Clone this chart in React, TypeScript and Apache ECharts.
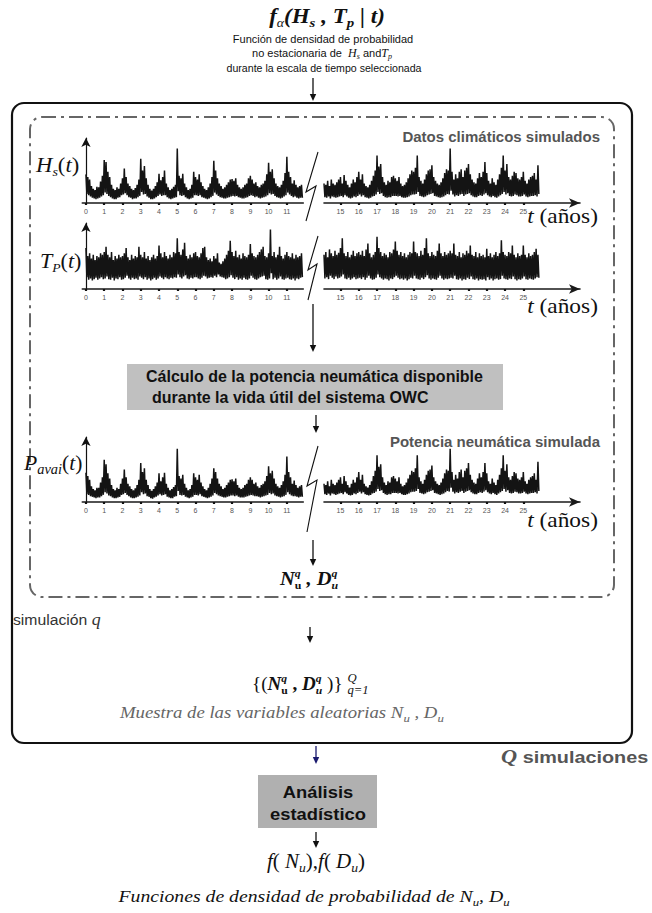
import React, { useEffect, useRef } from 'react';
import * as echarts from 'echarts';

// ---------- DATA (values on a 0-100 display scale, sampled every 0.1 year) ----------
const leftTicks = [0, 1, 2, 3, 4, 5, 6, 7, 8, 9, 10, 11];
const rightTicks = [15, 16, 17, 18, 19, 20, 21, 22, 23, 24, 25];
const leftStart = 0.0;   // first sample (years)
const rightStart = 14.1; // first sample after the break (years)

// Hs(t) – window maxima / minima
const hsLeftHi = [
  44, 40, 36, 26, 22, 20, 25, 24, 33, 42,
  66, 63, 48, 40, 28, 22, 20, 24, 22, 30,
  38, 53, 40, 30, 26, 22, 20, 23, 28, 36,
  68, 50, 57, 38, 28, 22, 19, 22, 26, 32,
  45, 35, 40, 50, 30, 24, 20, 22, 25, 28,
  84, 42, 38, 45, 30, 24, 20, 22, 28, 48,
  40, 36, 44, 32, 26, 22, 20, 24, 30, 40,
  65, 50, 38, 30, 26, 22, 24, 28, 32, 36,
  37, 34, 38, 28, 24, 22, 24, 28, 30, 38,
  42, 36, 30, 32, 26, 24, 28, 30, 34, 44,
  62, 48, 52, 38, 30, 26, 24, 28, 34, 46,
  71, 48, 40, 30, 35, 28, 24, 26, 28,
];
const hsLeftLo = [
  14, 12, 10, 8, 7, 6, 7, 8, 10, 12,
  16, 14, 11, 9, 7, 6, 6, 8, 9, 12,
  13, 15, 12, 9, 8, 6, 7, 7, 9, 11,
  17, 13, 14, 10, 8, 6, 6, 7, 9, 11,
  13, 11, 12, 12, 9, 7, 6, 7, 8, 9,
  18, 12, 11, 12, 9, 7, 6, 7, 8, 12,
  12, 11, 12, 9, 8, 7, 6, 7, 9, 11,
  16, 13, 11, 9, 8, 7, 7, 8, 9, 10,
  11, 10, 11, 9, 8, 7, 7, 8, 9, 11,
  12, 11, 9, 10, 8, 7, 8, 9, 10, 12,
  15, 13, 14, 11, 9, 8, 7, 8, 10, 12,
  16, 13, 11, 9, 10, 8, 7, 8, 8,
];
const hsRightHi = [
  30, 28, 34, 26, 36, 30, 28, 32, 36,
  40, 30, 43, 34, 28, 24, 30, 36, 32, 40,
  48, 36, 44, 30, 26, 24, 28, 34, 42, 50,
  73, 56, 60, 40, 32, 28, 34, 32, 40, 42,
  38, 34, 40, 30, 26, 28, 32, 38, 44, 50,
  48, 54, 73, 40, 34, 30, 36, 44, 50, 52,
  58, 40, 34, 30, 28, 32, 38, 46, 52, 50,
  84, 48, 36, 44, 38, 48, 52, 40, 50, 54,
  60, 44, 36, 32, 30, 38, 46, 40, 48, 63,
  46, 34, 30, 38, 32, 28, 36, 44, 54, 73,
  50, 60, 40, 36, 42, 48, 46, 38, 36, 40,
  48, 34, 30, 36, 40, 42, 46, 36, 58,
];
const hsRightLo = [
  9, 8, 10, 7, 10, 9, 8, 9, 10,
  11, 9, 12, 10, 8, 7, 8, 10, 9, 11,
  13, 10, 12, 9, 8, 7, 8, 10, 11, 13,
  17, 14, 15, 11, 9, 8, 9, 9, 11, 11,
  11, 10, 11, 9, 8, 8, 9, 10, 12, 13,
  13, 14, 17, 11, 10, 9, 10, 12, 13, 14,
  15, 11, 10, 9, 8, 9, 10, 12, 14, 13,
  19, 13, 10, 12, 11, 13, 14, 11, 13, 14,
  15, 12, 10, 9, 9, 11, 12, 11, 13, 15,
  12, 10, 9, 11, 9, 8, 10, 12, 14, 17,
  13, 15, 11, 10, 11, 13, 12, 10, 10, 11,
  13, 10, 9, 10, 11, 11, 12, 10, 14,
];

// Tp(t)
const tpLeftHi = [
  62, 50, 54, 46, 52, 44, 50, 48, 54, 52,
  56, 64, 52, 48, 56, 44, 50, 46, 52, 48,
  50, 54, 62, 48, 44, 52, 46, 50, 48, 64,
  52, 48, 56, 46, 50, 44, 48, 52, 46, 50,
  66, 54, 48, 56, 50, 46, 52, 48, 56, 54,
  77, 56, 52, 60, 70, 50, 46, 52, 48, 54,
  56, 50, 48, 54, 62, 64, 48, 44, 46, 42,
  50, 46, 54, 40, 38, 42, 46, 52, 58, 73,
  56, 50, 58, 48, 52, 46, 54, 50, 48, 52,
  68, 54, 50, 48, 52, 56, 60, 64, 50, 48,
  54, 90, 50, 56, 48, 52, 64, 50, 46, 52,
  56, 50, 48, 54, 46, 52, 48, 50, 54,
];
const tpLeftLo = [
  18, 14, 16, 13, 15, 17, 14, 16, 18, 15,
  16, 19, 15, 14, 17, 13, 16, 15, 18, 14,
  15, 17, 20, 16, 14, 17, 15, 16, 14, 19,
  17, 15, 18, 14, 16, 13, 15, 17, 14, 16,
  19, 17, 15, 18, 16, 15, 17, 16, 18, 17,
  22, 18, 16, 19, 21, 16, 15, 17, 16, 18,
  18, 16, 15, 17, 20, 19, 16, 17, 18, 17,
  20, 18, 22, 19, 18, 17, 15, 16, 18, 21,
  17, 15, 18, 14, 16, 14, 17, 15, 14, 16,
  20, 17, 15, 14, 16, 18, 19, 20, 15, 14,
  16, 24, 15, 17, 14, 16, 19, 15, 14, 16,
  17, 15, 14, 16, 13, 16, 15, 17, 18,
];
const tpRightHi = [
  52, 56, 48, 60, 54, 50, 58, 52, 55,
  62, 77, 54, 50, 56, 48, 52, 58, 50, 54,
  56, 52, 58, 50, 60, 69, 54, 48, 52, 56,
  79, 62, 56, 50, 54, 52, 48, 56, 54, 60,
  72, 58, 52, 56, 50, 54, 48, 52, 56, 54,
  72, 56, 54, 50, 58, 52, 62, 77, 54, 50,
  56, 52, 50, 58, 69, 54, 50, 56, 52, 54,
  58, 54, 69, 52, 50, 56, 48, 54, 52, 58,
  54, 66, 52, 50, 56, 48, 54, 50, 52, 48,
  61, 50, 54, 48, 52, 56, 50, 54, 74, 56,
  52, 50, 56, 54, 66, 52, 48, 54, 50, 52,
  66, 52, 48, 54, 50, 52, 56, 61, 52,
];
const tpRightLo = [
  16, 18, 15, 20, 17, 15, 19, 16, 17,
  19, 22, 16, 15, 17, 14, 16, 18, 15, 16,
  17, 15, 18, 14, 17, 20, 16, 14, 15, 17,
  22, 18, 16, 14, 16, 15, 13, 16, 15, 18,
  20, 17, 15, 16, 14, 16, 13, 15, 17, 16,
  20, 16, 15, 14, 17, 15, 18, 21, 16, 14,
  16, 15, 14, 17, 20, 16, 14, 16, 15, 16,
  17, 16, 20, 15, 14, 16, 13, 15, 14, 17,
  15, 19, 15, 14, 16, 13, 15, 14, 15, 13,
  18, 14, 16, 13, 15, 16, 14, 15, 20, 16,
  15, 14, 16, 15, 19, 15, 13, 15, 14, 16,
  19, 15, 14, 16, 15, 14, 16, 18, 17,
];

// Pavai(t)
const paLeftHi = [
  45, 40, 34, 24, 20, 18, 22, 22, 30, 38,
  65, 58, 44, 36, 26, 20, 18, 22, 20, 28,
  36, 50, 38, 28, 24, 20, 18, 21, 26, 34,
  60, 46, 52, 34, 26, 20, 17, 20, 24, 30,
  44, 32, 38, 45, 28, 22, 18, 20, 23, 26,
  82, 40, 36, 42, 28, 22, 18, 20, 26, 44,
  38, 34, 42, 30, 24, 20, 18, 22, 28, 36,
  52, 46, 36, 28, 24, 20, 22, 26, 30, 34,
  35, 32, 36, 26, 22, 20, 22, 26, 28, 34,
  38, 34, 28, 30, 24, 22, 26, 28, 32, 40,
  55, 44, 48, 36, 28, 24, 22, 26, 32, 42,
  70, 46, 38, 28, 33, 26, 22, 24, 26,
];
const paLeftLo = [
  12, 11, 9, 8, 7, 6, 7, 7, 9, 11,
  15, 13, 10, 9, 7, 6, 6, 7, 8, 11,
  12, 14, 11, 9, 7, 6, 6, 7, 8, 10,
  15, 12, 13, 9, 8, 6, 5, 7, 8, 10,
  12, 10, 11, 12, 8, 7, 6, 6, 8, 9,
  17, 11, 10, 11, 8, 7, 6, 7, 8, 11,
  11, 10, 12, 9, 8, 7, 6, 7, 8, 10,
  14, 12, 10, 9, 8, 7, 7, 8, 9, 10,
  10, 9, 10, 8, 7, 7, 7, 8, 9, 10,
  11, 10, 9, 9, 8, 7, 8, 9, 10, 11,
  14, 12, 13, 10, 9, 8, 7, 8, 9, 11,
  15, 12, 10, 9, 9, 8, 7, 8, 8,
];
const paRightHi = [
  28, 26, 32, 24, 34, 28, 26, 30, 34,
  38, 28, 40, 32, 26, 22, 28, 34, 30, 38,
  46, 34, 42, 28, 24, 22, 26, 32, 40, 48,
  72, 54, 58, 38, 30, 26, 32, 30, 38, 40,
  36, 32, 38, 28, 24, 26, 30, 36, 42, 48,
  46, 52, 72, 38, 32, 28, 34, 42, 48, 50,
  56, 38, 32, 28, 26, 30, 36, 44, 50, 48,
  82, 46, 34, 42, 36, 46, 50, 38, 48, 52,
  60, 42, 34, 30, 28, 36, 44, 38, 46, 60,
  44, 32, 28, 36, 30, 26, 34, 42, 52, 72,
  48, 58, 38, 34, 40, 46, 44, 36, 34, 38,
  46, 32, 28, 34, 38, 40, 44, 34, 62,
];
const paRightLo = [
  12, 11, 13, 10, 13, 12, 11, 12, 13,
  14, 12, 15, 13, 11, 10, 11, 13, 12, 14,
  16, 13, 15, 12, 11, 10, 11, 13, 14, 16,
  20, 17, 18, 14, 12, 11, 12, 12, 14, 14,
  14, 13, 14, 12, 11, 11, 12, 13, 15, 16,
  16, 17, 20, 14, 13, 12, 13, 15, 16, 17,
  18, 14, 13, 12, 11, 12, 13, 15, 17, 16,
  22, 16, 13, 15, 14, 16, 17, 14, 16, 17,
  18, 15, 13, 12, 12, 14, 15, 14, 16, 18,
  15, 13, 12, 14, 12, 11, 13, 15, 17, 20,
  16, 18, 14, 13, 14, 16, 15, 13, 13, 14,
  16, 13, 12, 13, 14, 14, 15, 13, 17,
];

// ---------- helpers ----------
const SERIF = '"Liberation Serif", "Times New Roman", serif';
const SANS = '"Liberation Sans", Arial, sans-serif';

// each window gives its maximum then its minimum, drawn as one continuous trace
function trace(t0: number, hi: number[], lo: number[]) {
  const out: number[][] = [];
  hi.forEach((h, i) => {
    const t = t0 + i * 0.1;
    out.push([+t.toFixed(3), h]);
    out.push([+(t + 0.05).toFixed(3), lo[i]]);
  });
  return out;
}

type Piece = { t: string; size: number; it?: boolean; b?: boolean; sans?: boolean; c?: string; dy?: number; keep?: boolean };
let mctx: CanvasRenderingContext2D | null = null;
function fontOf(p: Piece) {
  return `${p.it ? 'italic' : 'normal'} ${p.b ? 'bold' : 'normal'} ${p.size}px ${p.sans ? SANS : SERIF}`;
}
function measure(p: Piece) {
  if (!mctx) mctx = document.createElement('canvas').getContext('2d');
  mctx!.font = fontOf(p);
  return mctx!.measureText(p.t).width;
}
function mathText(pieces: Piece[], x: number, yb: number, align: 'left' | 'center' | 'right', color = '#111', sx = 1) {
  let total = 0;
  let pend = 0;
  const adv: number[] = [];
  pieces.forEach((p) => {
    const w = measure(p) * sx;
    if (p.keep) {
      adv.push(0);
      pend = w;
    } else {
      const a = Math.max(w, pend);
      adv.push(a);
      pend = 0;
      total += a;
    }
  });
  let cx = align === 'left' ? x : align === 'center' ? x - total / 2 : x - total;
  return pieces.map((p, i) => {
    const el = {
      type: 'text',
      x: cx,
      y: yb + (p.dy || 0) - 0.34 * p.size,
      scaleX: sx,
      silent: true,
      style: {
        text: p.t,
        fontSize: p.size,
        fontFamily: p.sans ? SANS : SERIF,
        fontWeight: p.b ? 'bold' : 'normal',
        fontStyle: p.it ? 'italic' : 'normal',
        fill: p.c || color,
        align: 'left',
        verticalAlign: 'middle',
        textAlign: 'left',
        textVerticalAlign: 'middle',
      },
    };
    cx += adv[i];
    return el;
  });
}
function arrow(x: number, y1: number, y2: number, color = '#111') {
  return [
    { type: 'line', silent: true, shape: { x1: x, y1, x2: x, y2: y2 - 5 }, style: { stroke: color, lineWidth: 1.3 } },
    { type: 'polygon', silent: true, shape: { points: [[x - 3.2, y2 - 7], [x + 3.2, y2 - 7], [x, y2]] }, style: { fill: color } },
  ];
}
function breakMark(pts: number[][]) {
  return { type: 'polyline', silent: true, shape: { points: pts }, style: { stroke: '#111', lineWidth: 1.1, fill: 'none' } };
}
function years(yb: number) {
  return mathText([{ t: 't', size: 20, it: true }, { t: ' (años)', size: 20 }], 598, yb, 'right', '#111', 1.17);
}

export default function App() {
  const ref = useRef<HTMLDivElement>(null);
  useEffect(() => {
    if (!ref.current) return;
    const chart = echarts.init(ref.current, undefined, { renderer: 'svg' });

    const rows = [
      { top: 138, height: 65 },
      { top: 223, height: 66 },
      { top: 437, height: 65 },
    ];
    const L = { left: 82.3, width: 221, min: -0.2, max: 11.9 };
    const R = { left: 324, width: 256, min: 14.1, max: 28.1 };

    const grids: any[] = [];
    const xAxes: any[] = [];
    const yAxes: any[] = [];
    rows.forEach((r) => {
      [L, R].forEach((s, k) => {
        const gi = grids.length;
        grids.push({ left: s.left, top: r.top, width: s.width, height: r.height, containLabel: false });
        const ticks = k === 0 ? leftTicks : rightTicks;
        xAxes.push({
          type: 'value', gridIndex: gi, min: s.min, max: s.max,
          axisLine: {
            show: true, onZero: true,
            symbol: k === 1 ? ['none', 'arrow'] : 'none', symbolSize: [7, 11],
            lineStyle: { color: '#1a1a1a', width: 1.6 },
          },
          axisTick: { show: true, customValues: ticks, length: 2, lineStyle: { color: '#111', width: 2.2 } },
          axisLabel: { show: true, customValues: ticks, fontSize: 7, color: '#555', margin: 5, fontFamily: SANS },
          splitLine: { show: false },
        });
        yAxes.push({
          type: 'value', gridIndex: gi, min: 0, max: 100, show: k === 0,
          axisLine: { show: k === 0, onZero: true, symbol: ['none', 'arrow'], symbolSize: [7, 9], lineStyle: { color: '#111', width: 1.2 } },
          axisTick: { show: false }, axisLabel: { show: false }, splitLine: { show: false },
        });
      });
    });

    const traces = [
      trace(leftStart, hsLeftHi, hsLeftLo),
      trace(rightStart, hsRightHi, hsRightLo),
      trace(leftStart, tpLeftHi, tpLeftLo),
      trace(rightStart, tpRightHi, tpRightLo),
      trace(leftStart, paLeftHi, paLeftLo),
      trace(rightStart, paRightHi, paRightLo),
    ];
    const series = traces.map((d, i) => ({
      type: 'line', xAxisIndex: i, yAxisIndex: i, data: d, symbol: 'none', silent: true,
      lineStyle: { color: '#141414', width: 1.5 }, z: 3,
    }));

    const g: any[] = [];
    g.push({ type: 'rect', silent: true, shape: { x: 12, y: 103, width: 620, height: 640, r: 12 }, style: { fill: 'none', stroke: '#111', lineWidth: 2.2 } });
    g.push({ type: 'rect', silent: true, shape: { x: 30, y: 117, width: 584, height: 480, r: 12 }, style: { fill: 'none', stroke: '#666', lineWidth: 2, lineDash: [14, 5, 3, 5] } });

    // title block
    g.push(...mathText([
      { t: 'f', size: 20, it: true, b: true },
      { t: 'α', size: 12, it: true, dy: 4 },
      { t: '(H', size: 20, it: true, b: true },
      { t: 's', size: 13, it: true, b: true, dy: 4 },
      { t: ' , T', size: 20, it: true, b: true },
      { t: 'p', size: 13, it: true, b: true, dy: 4 },
      { t: ' | t)', size: 20, it: true, b: true },
    ], 327, 23, 'center', '#111', 1.15));
    g.push(...mathText([{ t: 'Función de densidad de probabilidad', size: 11, sans: true }], 323, 43, 'center'));
    g.push(...mathText([
      { t: 'no estacionaria de  ', size: 11, sans: true },
      { t: 'H', size: 12, it: true },
      { t: 's', size: 8, it: true, dy: 2 },
      { t: ' and', size: 11, sans: true },
      { t: 'T', size: 12, it: true },
      { t: 'p', size: 8, it: true, dy: 2 },
    ], 322, 57, 'center'));
    g.push(...mathText([{ t: 'durante la escala de tiempo seleccionada', size: 10.6, sans: true }], 324, 72, 'center'));
    g.push(...arrow(313, 78, 101));

    // climate block
    g.push(...mathText([{ t: 'Datos climáticos simulados', size: 15, b: true, sans: true, c: '#555' }], 600, 142, 'right'));
    g.push(...mathText([
      { t: 'H', size: 21, it: true }, { t: 's', size: 13, it: true, dy: 4 }, { t: '(', size: 21 }, { t: 't', size: 21, it: true }, { t: ')', size: 21 },
    ], 36, 172, 'left', '#111', 1.08));
    g.push(...years(223));
    g.push(...mathText([
      { t: 'T', size: 21, it: true }, { t: 'P', size: 13, it: true, dy: 4 }, { t: '(', size: 21 }, { t: 't', size: 21, it: true }, { t: ')', size: 21 },
    ], 40, 268, 'left', '#111', 1.05));
    g.push(...years(313));
    g.push(breakMark([[318, 152], [306, 192], [316, 186], [306, 221]]));
    g.push(breakMark([[318, 236], [308, 270], [317, 264], [308, 300]]));
    g.push(...arrow(313, 304, 352));

    // power block
    g.push({ type: 'rect', silent: true, shape: { x: 127, y: 364, width: 376, height: 46 }, style: { fill: '#c0c0c0' } });
    g.push(...mathText([{ t: 'Cálculo de la potencia neumática disponible', size: 16, b: true, sans: true }], 146, 382, 'left'));
    g.push(...mathText([{ t: 'durante la vida útil del sistema OWC', size: 16, b: true, sans: true }], 152, 403, 'left'));
    g.push(...arrow(316, 415, 433));
    g.push(...mathText([{ t: 'Potencia neumática simulada', size: 15, b: true, sans: true, c: '#555' }], 600, 447, 'right'));
    g.push(...mathText([
      { t: 'P', size: 21, it: true }, { t: 'avai', size: 14, it: true, dy: 4 }, { t: '(', size: 21 }, { t: 't', size: 21, it: true }, { t: ')', size: 21 },
    ], 24, 470, 'left', '#111', 1.03));
    g.push(...years(527));
    g.push(breakMark([[318, 446], [307, 486], [317, 480], [307, 532]]));
    g.push(...arrow(313, 540, 566));
    g.push(...mathText([
      { t: 'N', size: 19, it: true, b: true },
      { t: 'q', size: 11, it: true, b: true, dy: -8, keep: true },
      { t: 'u', size: 11, b: true, dy: 4 },
      { t: ' , ', size: 19, it: true, b: true },
      { t: 'D', size: 19, it: true, b: true },
      { t: 'q', size: 11, it: true, b: true, dy: -8, keep: true },
      { t: 'u', size: 11, it: true, b: true, dy: 4 },
    ], 309, 585, 'center', '#111', 1.08));

    // simulation loop
    g.push(...mathText([{ t: 'simulación ', size: 15, sans: true, c: '#333' }, { t: 'q', size: 17, it: true, c: '#333' }], 13, 625, 'left', '#333', 1.05));
    g.push(...arrow(310, 627, 643));
    g.push(...mathText([
      { t: '{(', size: 18 },
      { t: 'N', size: 18, it: true, b: true },
      { t: 'q', size: 11, it: true, b: true, dy: -8, keep: true },
      { t: 'u', size: 11, b: true, dy: 4 },
      { t: ' , ', size: 18, b: true },
      { t: 'D', size: 18, it: true, b: true },
      { t: 'q', size: 11, it: true, b: true, dy: -8, keep: true },
      { t: 'u', size: 11, it: true, b: true, dy: 4 },
      { t: ' )} ', size: 18 },
      { t: 'Q', size: 12, it: true, dy: -8, keep: true },
      { t: 'q=1', size: 12, it: true, dy: 4 },
    ], 252, 690, 'left', '#111', 1.06));
    g.push(...mathText([
      { t: 'Muestra de las variables aleatorias N', size: 16, it: true, c: '#666' },
      { t: 'u', size: 11, it: true, c: '#666', dy: 4 },
      { t: ' , D', size: 16, it: true, c: '#666' },
      { t: 'u', size: 11, it: true, c: '#666', dy: 4 },
    ], 120, 718, 'left', '#666', 1.17));

    g.push(...arrow(316, 746, 764, '#1a1a6e'));
    g.push(...mathText([{ t: 'Q', size: 18, it: true, b: true, c: '#555' }, { t: ' simulaciones', size: 16, b: true, sans: true, c: '#555' }], 501, 763, 'left', '#555', 1.24));

    // statistics
    g.push({ type: 'rect', silent: true, shape: { x: 258, y: 775, width: 119, height: 53 }, style: { fill: '#b0b0b0' } });
    g.push(...mathText([{ t: 'Análisis', size: 17, b: true, sans: true }], 318, 798, 'center', '#111', 1.08));
    g.push(...mathText([{ t: 'estadístico', size: 17, b: true, sans: true }], 318, 820, 'center', '#111', 1.08));
    g.push(...arrow(316, 832, 848));
    g.push(...mathText([
      { t: 'f', size: 20, it: true }, { t: '( ', size: 20 }, { t: 'N', size: 20, it: true }, { t: 'u', size: 13, it: true, dy: 4 }, { t: '),', size: 20 },
      { t: 'f', size: 20, it: true }, { t: '( ', size: 20 }, { t: 'D', size: 20, it: true }, { t: 'u', size: 13, it: true, dy: 4 }, { t: ')', size: 20 },
    ], 316, 868, 'center', '#111', 1.05));
    g.push(...mathText([
      { t: 'Funciones de densidad de probabilidad de N', size: 17, it: true },
      { t: 'u', size: 11, it: true, dy: 4 },
      { t: ', D', size: 17, it: true },
      { t: 'u', size: 11, it: true, dy: 4 },
    ], 314, 902, 'center', '#111', 1.16));

    chart.setOption({
      animation: false,
      backgroundColor: '#ffffff',
      grid: grids,
      xAxis: xAxes,
      yAxis: yAxes,
      series,
      graphic: { elements: g },
    });
    return () => chart.dispose();
  }, []);
  return <div ref={ref} style={{ position: 'absolute', left: 0, top: 0, width: 652, height: 913, background: '#fff' }} />;
}
